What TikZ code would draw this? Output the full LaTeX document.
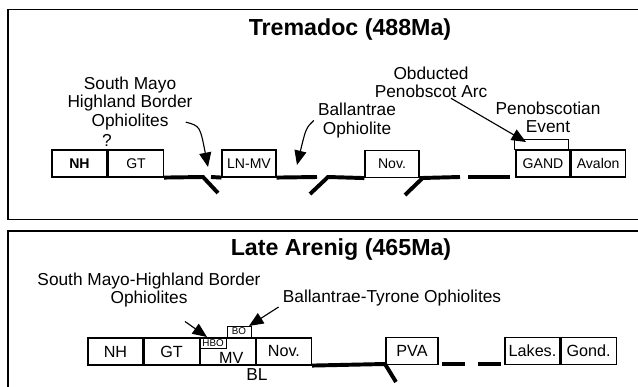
\documentclass[tikz,border=0pt]{standalone}
\usepackage{fontspec}
\setmainfont{Liberation Sans}
\usetikzlibrary{positioning,calc,arrows.meta}
\tikzset{
panel/.style={draw=black,line width=1.1pt},
heading/.style={font=\fontsize{16.5}{18}\selectfont\bfseries,inner sep=0pt},
caption/.style={font=\fontsize{12.3}{13}\selectfont,align=center,inner sep=0pt},
terrane/.style={draw=black,line width=0.8pt,minimum width=1.375cm,minimum height=0.675cm,inner sep=0pt,font=\fontsize{10}{12}\selectfont},
terraneB/.style={terrane,font=\fontsize{11.5}{13}\selectfont},
tinybox/.style={draw=black,line width=0.6pt,inner sep=0pt,font=\fontsize{7}{8}\selectfont},
plate/.style={line width=2.8pt},
pointer/.style={-{Triangle[length=3.6mm,width=3mm]},line width=0.8pt}
}

\begin{document}
\begin{tikzpicture}[x=0.025cm,y=-0.025cm]
\useasboundingbox (0,0) rectangle (638,387);
\clip (0,0) rectangle (638,387);
\draw[panel] (8,9.5) rectangle (660,219.5);
\draw[panel] (8,231) rectangle (660,410);

\node[heading] (t1) at (350,30) {Tremadoc (488Ma)};
\node[terrane,line width=1.4pt,font=\fontsize{10}{12}\selectfont\bfseries] (nh1) at (79.5,163.5) {NH};
\node[terrane,right=0pt of nh1] (gt1) {GT};
\node[terrane,minimum width=1.35cm] (lnmv) at (249,163.5) {LN-MV};
\node[terrane,minimum width=1.35cm] (nov1) at (392,164) {Nov.};
\node[terrane,minimum width=1.35cm] (gand) at (543,163.5) {GAND};
\node[terrane,minimum width=1.35cm,right=0pt of gand] (aval) {Avalon};
\node[tinybox,minimum width=1.35cm,minimum height=0.25cm] (pen) at (541,144) {};
\node[caption] (q) at (107,140) {?};
\node[caption] (smho1) at (130,103.5) {South Mayo\\Highland Border\\Ophiolites};
\node[caption] (bal1) at (357,120.5) {Ballantrae\\Ophiolite};
\node[caption] (obd) at (431,82.5) {Obducted\\Penobscot Arc};
\node[caption] (pevt) at (548,117) {Penobscotian\\Event};

\coordinate (a1) at (203,177);
\coordinate (a2) at (218,193);
\coordinate (b0) at (211,177);
\coordinate (b1) at (317,177);
\coordinate (c0) at (310,194);
\coordinate (c1) at (328,177);
\coordinate (c2) at (460,177);
\coordinate (c3) at (405,195);
\coordinate (d0) at (468,177);
\coordinate (d1) at (510,177);
\draw[plate] (gt1.south east) -- (a1) -- (a2);
\draw[plate] (b0) -- (lnmv.south west);
\draw[plate] (lnmv.south east) -- (b1);
\draw[plate] (c0) -- (c1) -- (nov1.south west);
\draw[plate] (nov1.south east) -- (c2);
\draw[plate] ($(nov1.south east)+(3,0)$) -- (c3);
\draw[plate] (d0) -- (d1);

\coordinate (smtip1) at (208,167);
\coordinate (baltip1) at (297,165);
\coordinate (obdtip) at (526,142);
\draw[pointer] ($(smho1.south east)+(-7,-8)$) .. controls (200,126) .. (smtip1);
\draw[pointer] ($(bal1.west)+(-4,0)$) .. controls (306,128) .. (baltip1);
\draw[pointer] ($(obd.south)+(20,0)$) -- (obdtip);

\node[heading] (t2) at (341,250) {Late Arenig (465Ma)};
\node[terraneB] (nh2) at (115.5,351.5) {NH};
\node[terraneB,right=0pt of nh2] (gt2) {GT};
\node[terraneB,right=0pt of gt2] (mv) {\raisebox{-8.7pt}[0pt][0pt]{\hspace*{5pt}MV}};
\node[terraneB,right=0pt of mv] (nov2) {Nov.};
\node[tinybox,minimum width=0.65cm,minimum height=0.275cm,anchor=north west] (hbo) at (mv.north west) {HBO};
\node[tinybox,minimum width=0.6cm,minimum height=0.275cm,anchor=south west] (bo) at (hbo.north east) {BO};
\node[caption] (bl) at (257,375) {BL};
\node[terraneB,minimum width=1.3cm] (pva) at (412,351) {PVA};
\node[terraneB] (lakes) at (532.5,351) {Lakes.};
\node[terraneB,right=0pt of lakes] (gond) {Gond.};
\node[caption] (smho2) at (149,290) {South Mayo-Highland Border\\Ophiolites};
\node[caption] (bto) at (392,298) {Ballantrae-Tyrone Ophiolites};

\coordinate (e1) at (385,364);
\coordinate (e2) at (396,382);
\coordinate (f0) at (442,364);
\coordinate (f1) at (465,364);
\coordinate (f2) at (478,364);
\coordinate (f3) at (501,364);
\draw[plate] (nov2.south east) -- (e1) -- (e2);
\draw[plate] (f0) -- (f1);
\draw[plate] (f2) -- (f3);

\coordinate (smtip2) at (207,337);
\coordinate (btotip) at (249,326);
\draw[pointer] ($(smho2.south)+(36,14)$) -- (smtip2);
\draw[pointer] ($(bto.west)+(-4,9)$) -- (btotip);
\end{tikzpicture}
\end{document}
